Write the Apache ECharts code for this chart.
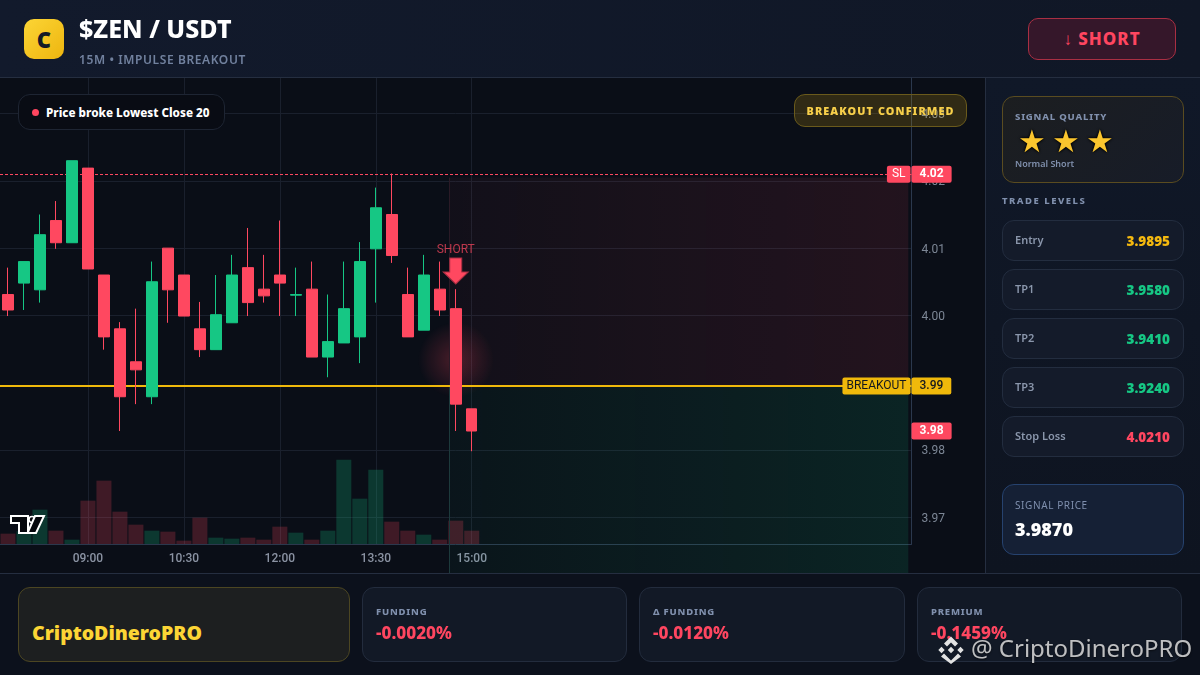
<!DOCTYPE html>
<html><head><meta charset="utf-8">
<script src="https://cdn.jsdelivr.net/npm/echarts@6/dist/echarts.min.js"></script>
<style>
*{box-sizing:border-box;margin:0;padding:0}
html,body{width:1200px;height:675px;overflow:hidden;background:#0d1320;font-family:"Noto Sans",sans-serif}
.a{position:absolute}
#header{left:0;top:0;width:1200px;height:78px;background:linear-gradient(90deg,#121a2c,#101726);border-bottom:1px solid #252e40}
#plotbg{left:0;top:78px;width:985px;height:495px;background:#0a0e17}
#side{left:985px;top:78px;width:215px;height:495px;background:linear-gradient(180deg,#101828,#0e1420);border-left:1px solid #252e40}
#footer{left:0;top:573px;width:1200px;height:102px;background:#0c111c;border-top:1px solid #252e40}
#chart{left:0;top:0;width:1200px;height:675px}
.logo{left:24px;top:19px;width:40px;height:40px;border-radius:10px;background:linear-gradient(135deg,#fcd535,#eeb50f);color:#141a26;font-weight:900;font-size:22px;line-height:40px;text-align:center}
.title{left:79px;top:11px;color:#fff;font-weight:800;font-size:25px;line-height:34px;white-space:nowrap}
.sub{left:79px;top:51px;color:#71819e;font-weight:600;font-size:12px;letter-spacing:.6px;line-height:17px;white-space:nowrap}
.btn{left:1028px;top:18px;width:148px;height:42px;border-radius:10px;border:1px solid #a92f43;background:#35172a;color:#ff4660;font-weight:800;font-size:17px;letter-spacing:1px;line-height:40px;text-align:center}
.pill1{left:18px;top:94px;width:207px;height:36px;border-radius:12px;border:1px solid #1e2533;background:#090c14;color:#fff;font-weight:800;font-size:11.7px;line-height:35px;padding-left:27px;white-space:nowrap}
.dot{left:32px;top:109px;width:7px;height:7px;border-radius:50%;background:#ff4660}
.pill2{left:794px;top:94px;width:173px;height:33px;border-radius:11px;border:1px solid #6a5a1c;background:rgba(240,185,11,.17);color:#f7cf4a;font-weight:900;font-size:10.8px;letter-spacing:1.1px;line-height:32px;text-align:center;white-space:nowrap}
.card{border-radius:12px;border:1px solid #232d3f;background:#141b2a}
.lbl{color:#8090ad;font-weight:800;font-size:9.5px;letter-spacing:.8px;white-space:nowrap;line-height:13px}
.row{left:1002px;width:182px;height:41px;color:#8a96ab;font-weight:600;font-size:11px;line-height:38px;padding-left:12px}
.row b{position:absolute;right:13px;top:1px;font-size:13.5px;font-weight:900}
.star{top:120px;font-family:"DejaVu Sans";font-size:31px;line-height:42px;color:#fbc62e;text-shadow:0 0 3px #000,0 0 3px #000;width:34px;text-align:center}
.val{color:#ff4660;font-weight:800;font-size:17.2px;line-height:22px;white-space:nowrap}
.fcard{top:587px;height:75px;background:#121926;border-color:#232c3d}
.wm{left:971px;top:631px;color:rgba(235,235,235,.8);font-size:24px;line-height:34px;white-space:nowrap;text-shadow:0 1px 2px rgba(0,0,0,.6)}
</style></head><body>
<div class="a" id="header"></div>
<div class="a" id="plotbg"></div>
<div class="a" id="side"></div>
<div class="a" id="footer"></div>
<div class="a" id="chart"></div>

<div class="a logo">C</div>
<div class="a title">$ZEN / USDT</div>
<div class="a sub">15M • IMPULSE BREAKOUT</div>
<div class="a btn">↓ SHORT</div>
<div class="a pill1">Price broke Lowest Close 20</div><div class="a dot"></div>
<div class="a pill2">BREAKOUT CONFIRMED</div>

<div class="a card" style="left:1002px;top:96px;width:182px;height:87px;border-color:#5a4c20;background:linear-gradient(135deg,#1c1e20,#171c28)"></div>
<div class="a lbl" style="left:1015px;top:110px">SIGNAL QUALITY</div>
<div class="a star" style="left:1015px">★</div><div class="a star" style="left:1049px">★</div><div class="a star" style="left:1083px">★</div>
<div class="a" style="left:1015px;top:157px;color:#8090ad;font-size:9px;font-weight:600;line-height:13px">Normal Short</div>
<div class="a lbl" style="left:1002px;top:194px;letter-spacing:1.5px">TRADE LEVELS</div>
<div class="a card row" style="top:220px">Entry<b style="color:#f5b90f">3.9895</b></div>
<div class="a card row" style="top:269px">TP1<b style="color:#16c784">3.9580</b></div>
<div class="a card row" style="top:318px">TP2<b style="color:#16c784">3.9410</b></div>
<div class="a card row" style="top:367px">TP3<b style="color:#16c784">3.9240</b></div>
<div class="a card row" style="top:416px">Stop Loss<b style="color:#ff4660">4.0210</b></div>
<div class="a card" style="left:1002px;top:484px;width:182px;height:71px;border-color:#26426e;background:#152035"></div>
<div class="a" style="left:1015px;top:498px;color:#7f8fae;font-size:10px;letter-spacing:.6px;line-height:14px">SIGNAL PRICE</div>
<div class="a" style="left:1015px;top:517px;color:#fff;font-weight:900;font-size:18px;line-height:25px">3.9870</div>

<div class="a card fcard" style="left:18px;width:332px;background:#1d1f20;border-color:#4c4622"></div>
<div class="a" style="left:32px;top:619px;color:#fcd535;font-weight:900;font-size:19.5px;line-height:28px">CriptoDineroPRO</div>
<div class="a card fcard" style="left:362px;width:265px"></div>
<div class="a lbl" style="left:376px;top:605px">FUNDING</div><div class="a val" style="left:376px;top:622px">-0.0020%</div>
<div class="a card fcard" style="left:639px;width:266px"></div>
<div class="a lbl" style="left:653px;top:605px">Δ FUNDING</div><div class="a val" style="left:653px;top:622px">-0.0120%</div>
<div class="a card fcard" style="left:917px;width:265px"></div>
<div class="a lbl" style="left:931px;top:605px">PREMIUM</div><div class="a val" style="left:931px;top:622px">-0.1459%</div>

<svg class="a" style="left:9px;top:514px" width="38" height="22" viewBox="0 0 38 22">
<path d="M2 2H19V19H10V9H2Z" fill="#05070c" stroke="#fff" stroke-width="2"/>
<circle cx="23" cy="5.5" r="3" fill="#05070c" stroke="#fff" stroke-width="1.6"/>
<path d="M26 2H35L27 19H18.5Z" fill="#05070c" stroke="#fff" stroke-width="2"/>
</svg>
<svg class="a" style="left:937px;top:636px" width="28" height="28" viewBox="0 0 28 28" fill="#e2e2e2">
<path d="M14 .5l7 7-3 3-4-4-4 4-3-3zM4.5 10.8l3.2 3.2-3.2 3.2L1.3 14zM23.5 10.8l3.2 3.2-3.2 3.2-3.2-3.2zM14 10.8l3.2 3.2-3.2 3.2-3.2-3.2zM7 17.6l7 7 7-7 3 3L14 28 4 20.6z"/>
</svg>
<div class="a wm">@ CriptoDineroPRO</div>

<script>
const categories = ['07:45','08:00','08:15','08:30','08:45','09:00','09:15','09:30','09:45','10:00','10:15','10:30','10:45','11:00','11:15','11:30','11:45','12:00','12:15','12:30','12:45','13:00','13:15','13:30','13:45','14:00','14:15','14:30','14:45','15:00'];
const futureSlots = ['15:15','15:30','15:45','16:00','16:15','16:30','16:45','17:00','17:15','17:30','17:45','18:00','18:15','18:30','18:45','19:00','19:15','19:30','19:45','20:00','20:15','20:30','20:45','21:00','21:15','21:30','21:45'];
const opens  = [4.0031,4.0048,4.0038,4.0141,4.0108,4.0219,4.0060,3.9980,3.9931,3.9879,4.0100,4.0060,3.9980,3.9949,3.9989,4.0071,4.0039,4.0060,4.0030,4.0039,3.9938,3.9959,3.9968,4.0099,4.0150,4.0031,3.9978,4.0039,4.0010,3.9861];
const closes = [4.0008,4.0080,4.0120,4.0108,4.0230,4.0069,3.9968,3.9879,3.9919,4.0050,4.0038,3.9999,3.9949,4.0001,4.0060,4.0019,4.0029,4.0048,4.0031,3.9938,3.9961,4.0010,4.0080,4.0160,4.0089,3.9968,4.0060,4.0008,3.9868,3.9828];
const lows   = [3.9999,4.0008,4.0019,4.0099,4.0108,4.0069,3.9949,3.9828,3.9868,3.9868,3.9989,3.9999,3.9938,3.9949,3.9989,3.9999,4.0019,3.9999,3.9999,3.9938,3.9908,3.9959,3.9929,4.0019,4.0078,3.9968,3.9978,3.9999,3.9828,3.9798];
const highs  = [4.0071,4.0080,4.0150,4.0170,4.0230,4.0219,4.0060,3.9990,4.0010,4.0080,4.0100,4.0060,4.0020,4.0060,4.0090,4.0130,4.0090,4.0141,4.0071,4.0080,4.0031,4.0080,4.0109,4.0190,4.0211,4.0071,4.0090,4.0080,4.0039,3.9861];
const volumes = [31,38,103,40,13,130,190,97,58,40,37,10,79,19,16,19,13,52,34,13,40,253,136,223,67,40,28,13,70,40];
const yTicks = [3.97,3.98,4.00,4.01,4.02,4.03];
const stopLoss = 4.021, breakout = 3.9895, lastPrice = 3.9828, zoneTop = 4.0205, zoneBottom = 3.9617;
const shortIndex = 28, glowPrice = 3.9934, arrowPrice = 4.0066;
const zoneStart = 27.6, zoneEnd = 56.3;

const RED = '#ff4860', GREEN = '#16c784', YELLOW = '#f0b90b';
const FONT = 'Roboto';
const AXIS = '#2b384d', GRIDLINE = '#1a202d';
const allCats = categories.concat(futureSlots);
const candleData = categories.map((_, i) => [opens[i], closes[i], lows[i], highs[i]]);
const showTime = i => i >= 5 && i < categories.length && (i - 5) % 6 === 0;
const grad = (a, b, rgb) => new echarts.graphic.LinearGradient(0, 0, 1, 0, [{offset:0, color:`rgba(${rgb},${a})`},{offset:1, color:`rgba(${rgb},${b})`}]);
const boxLabel = (text, pos, bg, fg, padX, weight) => ({show:true, position:pos, distance:pos==='end'?0:1, formatter:text, padding:[2,padX,2,padX], lineHeight:13, backgroundColor:bg, color:fg, fontFamily:FONT, fontSize:12, fontWeight:weight, borderRadius:2});
const hidden = {color:'transparent', width:0};

const chart = echarts.init(document.getElementById('chart'), null, {renderer:'canvas', width:1200, height:675});
chart.setOption({
  animation:false, backgroundColor:'transparent',
  grid:[
    {left:-0.5, top:78, width:912, height:466},
    {left:-0.5, top:394, width:912, height:150},
    {left:-0.5, top:78, width:912, height:495}
  ],
  xAxis:[
    {type:'category', gridIndex:0, data:allCats, boundaryGap:true,
     axisLine:{lineStyle:{color:AXIS}}, axisTick:{show:false, alignWithLabel:true},
     axisLabel:{interval:(i)=>showTime(i), color:'#8b93a3', fontFamily:FONT, fontSize:12, fontWeight:500, margin:9, hideOverlap:false},
     splitLine:{show:true, alignWithLabel:true, interval:(i)=>showTime(i), lineStyle:{color:GRIDLINE}}},
    {type:'category', gridIndex:1, data:allCats, show:false},
    {type:'value', gridIndex:2, min:-0.5, max:56.5, show:false}
  ],
  yAxis:[
    {type:'value', gridIndex:0, position:'right', min:3.966, max:4.0353, scale:true,
     axisLine:{show:true, lineStyle:{color:AXIS}},
     axisTick:{show:false, customValues:yTicks},
     axisLabel:{customValues:yTicks, formatter:v=>'{p|'+v.toFixed(2)+'}', rich:{p:{color:'#7d8796', fontFamily:FONT, fontSize:12, padding:[3,0,0,0]}}, margin:10},
     splitLine:{show:true, lineStyle:{color:GRIDLINE}}},
    {type:'value', gridIndex:1, min:0, max:450, show:false, splitLine:{show:false}},
    {type:'value', gridIndex:2, min:zoneBottom, max:4.0353, show:false, splitLine:{show:false}}
  ],
  series:[
    {type:'line', xAxisIndex:2, yAxisIndex:2, data:[], z:1, silent:true, symbol:'none',
     markArea:{silent:true, data:[
       [{coord:[zoneStart, zoneTop], itemStyle:{color:grad(.035,.1,'255,72,96')}}, {coord:[zoneEnd, breakout]}],
       [{coord:[zoneStart, breakout], itemStyle:{color:grad(.04,.12,'22,199,132')}}, {coord:[zoneEnd, zoneBottom]}]
     ]},
     markLine:{silent:true, symbol:'none', precision:4, label:{show:false}, data:[
       [{coord:[zoneStart, zoneTop], lineStyle:{color:'#2a1a26', type:'solid', width:1}}, {coord:[zoneStart, breakout]}],
       [{coord:[zoneStart, breakout], lineStyle:{color:'#1d3a3c', type:'solid', width:1}}, {coord:[zoneStart, zoneBottom]}]
     ]}},
    {type:'bar', xAxisIndex:1, yAxisIndex:1, z:2, barWidth:15, silent:true,
     data:volumes.map((v,i)=>({value:v, itemStyle:{color: closes[i]>=opens[i] ? 'rgba(22,199,132,.23)' : 'rgba(255,72,96,.22)'}}))},
    {type:'scatter', xAxisIndex:0, yAxisIndex:0, z:3, silent:true, symbolSize:76,
     data:[[shortIndex, glowPrice]],
     itemStyle:{opacity:1, color:new echarts.graphic.RadialGradient(.5,.5,.5,[{offset:0,color:'rgba(255,72,96,.26)'},{offset:.5,color:'rgba(255,72,96,.13)'},{offset:1,color:'rgba(255,72,96,0)'}])}},
    {type:'candlestick', xAxisIndex:0, yAxisIndex:0, z:5, barWidth:11, silent:true, clip:false,
     data:candleData,
     itemStyle:{color:GREEN, color0:RED, borderColor:GREEN, borderColor0:RED, borderWidth:1},
     markPoint:{silent:true, data:[{
        coord:[shortIndex, arrowPrice], symbol:'path://M6.5 0H18.5V14H25L12.5 26L0 14H6.5Z', symbolSize:[25,26],
        itemStyle:{color:RED, borderColor:'#a92f43', borderWidth:1},
        label:{show:true, formatter:'SHORT', position:'top', distance:1, color:'rgba(255,72,96,.72)', fontFamily:FONT, fontSize:12}
     }]},
     markLine:{silent:true, symbol:'none', animation:false, precision:4, data:[
       {yAxis:stopLoss, lineStyle:{color:RED, type:[3,2], width:1}, label:boxLabel(stopLoss.toFixed(2),'end',RED,'#fff',8,700)},
       {yAxis:stopLoss, lineStyle:hidden, label:boxLabel('SL','insideEnd',RED,'#fff',5,400)},
       {yAxis:breakout, lineStyle:{color:YELLOW, type:'solid', width:2}, label:boxLabel(breakout.toFixed(2),'end',YELLOW,'#14181f',8,500)},
       {yAxis:breakout, lineStyle:hidden, label:boxLabel('BREAKOUT','insideEnd',YELLOW,'#14181f',4,400)},
       {yAxis:lastPrice, lineStyle:hidden, label:boxLabel(lastPrice.toFixed(2),'end',RED,'#fff',8,700)}
     ]}}
  ]
});
</script>
</body></html>
